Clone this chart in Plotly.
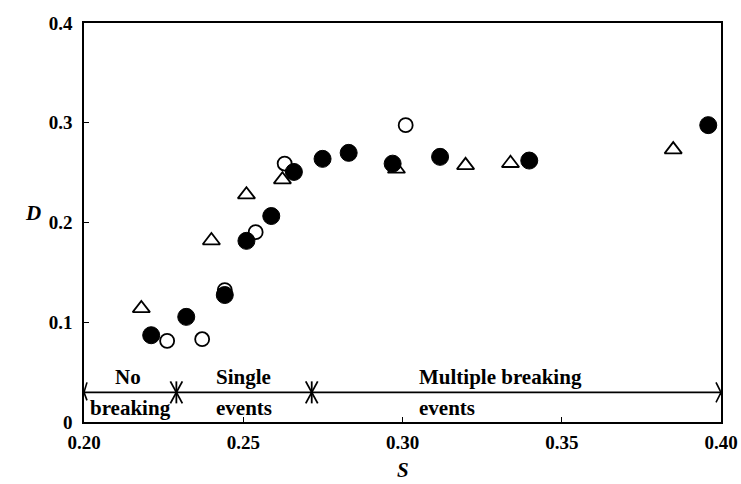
import plotly.graph_objects as go

# Filled circles
filled_s = [0.2211, 0.2321, 0.2442, 0.2510, 0.2588, 0.2659, 0.2749, 0.2831, 0.2969, 0.3118, 0.3398, 0.3960]
filled_d = [0.0870, 0.1054, 0.1273, 0.1816, 0.2065, 0.2507, 0.2638, 0.2698, 0.2590, 0.2658, 0.2621, 0.2976]
# Open circles
open_s = [0.2261, 0.2371, 0.2442, 0.2539, 0.2630, 0.3010]
open_d = [0.0813, 0.0830, 0.1323, 0.1903, 0.2591, 0.2976]
# Open triangles
tri_s = [0.2180, 0.2400, 0.2510, 0.2623, 0.2981, 0.3198, 0.3339, 0.3850]
tri_d = [0.1139, 0.1819, 0.2279, 0.2430, 0.2537, 0.2573, 0.2594, 0.2731]

x_ticks = [0.20, 0.25, 0.30, 0.35, 0.40]
x_ticklabels = ["0.20", "0.25", "0.30", "0.35", "0.40"]
y_ticks = [0, 0.1, 0.2, 0.3, 0.4]
y_ticklabels = ["0", "0.1", "0.2", "0.3", "0.4"]

# Regime bar
regime_y = 0.0297
regime_bounds = [0.20, 0.229, 0.2715, 0.40]
regime_top = [("No", 0.2137, "center"), ("Single", 0.2501, "center"), ("Multiple breaking", 0.3044, "left")]
regime_bot = [("breaking", 0.2146, "center"), ("events", 0.2501, "center"), ("events", 0.3044, "left")]
label_top_y = 0.0448
label_bot_y = 0.0136

FONT = "Liberation Serif"
TXT = 21
TICK = 19

fig = go.Figure()
fig.add_trace(go.Scatter(x=open_s, y=open_d, mode="markers",
                         marker=dict(symbol="circle", size=14, color="white",
                                     line=dict(color="black", width=1.8)),
                         showlegend=False))
fig.add_trace(go.Scatter(x=tri_s, y=tri_d, mode="markers",
                         marker=dict(symbol="triangle-up", size=15, color="white",
                                     line=dict(color="black", width=1.8)),
                         showlegend=False))
fig.add_trace(go.Scatter(x=filled_s, y=filled_d, mode="markers",
                         marker=dict(symbol="circle", size=17, color="black",
                                     line=dict(color="black", width=1)),
                         showlegend=False))

shapes = []
shapes.append(dict(type="line", xref="x", yref="y", x0=regime_bounds[0], x1=regime_bounds[-1],
                   y0=regime_y, y1=regime_y, line=dict(color="black", width=1.6)))
for dy in (10, -8):
    shapes.append(dict(type="line", xref="x", yref="y", xsizemode="pixel", ysizemode="pixel",
                       xanchor=regime_bounds[0], yanchor=regime_y,
                       x0=0, y0=0, x1=3, y1=dy, line=dict(color="black", width=1.6)))
for dy in (10, -10):
    shapes.append(dict(type="line", xref="x", yref="y", xsizemode="pixel", ysizemode="pixel",
                       xanchor=regime_bounds[-1], yanchor=regime_y,
                       x0=0, y0=0, x1=-5, y1=dy, line=dict(color="black", width=1.6)))
for xb in regime_bounds[1:-1]:
    for (a0, b0, a1, b1) in [(0, -11, 0, 11), (-6, -11, 6, 11), (-6, 11, 6, -11)]:
        shapes.append(dict(type="line", xref="x", yref="y", xsizemode="pixel", ysizemode="pixel",
                           xanchor=xb, yanchor=regime_y,
                           x0=a0, y0=b0, x1=a1, y1=b1, line=dict(color="black", width=1.8)))

annotations = []
for txt, xv, al in regime_top:
    annotations.append(dict(x=xv, y=label_top_y, xref="x", yref="y", text=txt, showarrow=False,
                            xanchor=al, yanchor="middle",
                            font=dict(family=FONT, size=TXT, color="black", weight="bold")))
for txt, xv, al in regime_bot:
    annotations.append(dict(x=xv, y=label_bot_y, xref="x", yref="y", text=txt, showarrow=False,
                            xanchor=al, yanchor="middle",
                            font=dict(family=FONT, size=TXT, color="black", weight="bold")))

pl, pr, pt, pb = 84, 20, 23, 62
pw, ph = 741 - pl - pr, 484 - pt - pb
# axis titles as paper-positioned annotations
annotations.append(dict(x=(33 - pl) / pw, y=(484 - pb - 213) / ph, xref="paper", yref="paper",
                        text="<i>D</i>", showarrow=False, xanchor="center", yanchor="middle",
                        font=dict(family=FONT, size=TXT, color="black", weight="bold")))
annotations.append(dict(x=(403 - pl) / pw, y=(484 - pb - 470) / ph, xref="paper", yref="paper",
                        text="<i>S</i>", showarrow=False, xanchor="center", yanchor="middle",
                        font=dict(family=FONT, size=TXT, color="black", weight="bold")))

fig.update_layout(
    width=741, height=484,
    margin=dict(l=pl, r=pr, t=pt, b=pb, autoexpand=False),
    paper_bgcolor="white", plot_bgcolor="white",
    shapes=shapes,
    annotations=annotations,
    font=dict(family=FONT, size=TICK, color="black"),
    xaxis=dict(range=[0.2, 0.4], tickvals=x_ticks, ticktext=x_ticklabels, automargin=False,
               showgrid=False, zeroline=False, showline=True, linecolor="black", linewidth=1.6,
               mirror=True, ticks="inside", ticklen=5, tickcolor="black", tickwidth=1.2,
               ticklabelstandoff=2,
               tickfont=dict(family=FONT, size=TICK, weight="bold")),
    yaxis=dict(range=[0, 0.4], tickvals=y_ticks, ticktext=y_ticklabels, automargin=False,
               showgrid=False, zeroline=False, showline=True, linecolor="black", linewidth=1.6,
               mirror=True, ticks="inside", ticklen=5, tickcolor="black", tickwidth=1.2,
               ticklabelstandoff=6,
               tickfont=dict(family=FONT, size=TICK, weight="bold")),
)

fig.write_html("out.html")
